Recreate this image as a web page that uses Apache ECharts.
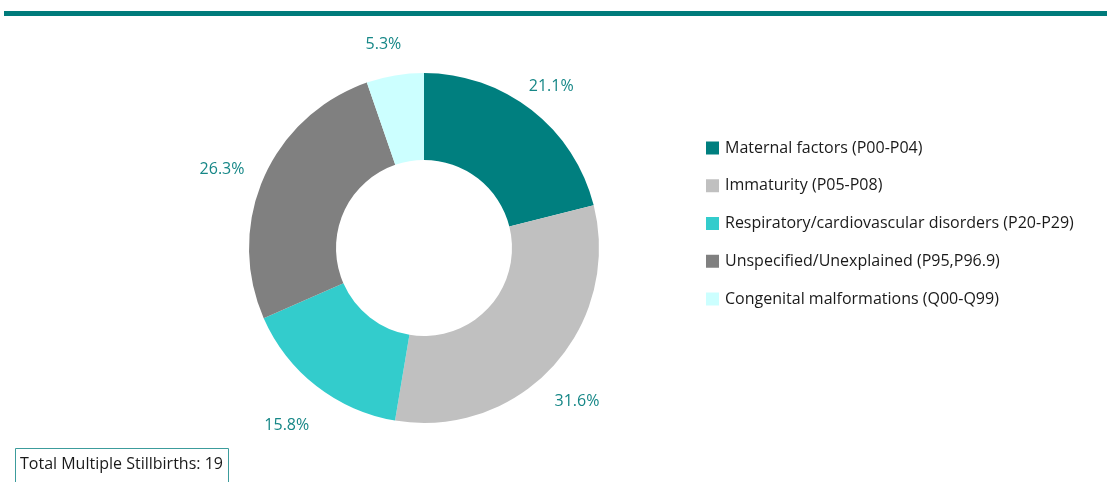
<!DOCTYPE html>
<html>
<head>
<meta charset="utf-8">
<script src="https://cdn.jsdelivr.net/npm/echarts@6/dist/echarts.min.js"></script>
<style>
  html, body { margin: 0; padding: 0; background: #ffffff; }
  #chart { width: 1107px; height: 482px; }
</style>
</head>
<body>
<div id="chart"></div>
<script>
// Causes of multiple stillbirths, share of total (%)
const categories = [
  'Maternal factors (P00-P04)',
  'Immaturity (P05-P08)',
  'Respiratory/cardiovascular disorders (P20-P29)',
  'Unspecified/Unexplained (P95,P96.9)',
  'Congenital malformations (Q00-Q99)'
];
const shares = [21.1, 31.6, 15.8, 26.3, 5.3];
const colors = ['#007f7f', '#c0c0c0', '#33cccc', '#808080', '#ccffff'];
const totalStillbirths = 19;

const FONT = '"Open Sans", Lato, sans-serif';
const LABEL_COLOR = '#168787';

const sliceData = categories.map((name, i) => ({
  name: name,
  value: shares[i],
  itemStyle: { color: colors[i] }
}));

const chart = echarts.init(document.getElementById('chart'), null, { renderer: 'canvas' });

chart.setOption({
  animation: false,
  backgroundColor: '#ffffff',
  legend: {
    data: categories,
    orient: 'vertical',
    left: 701,
    top: 135,
    icon: 'rect',
    itemWidth: 13,
    itemHeight: 13,
    itemGap: 21.75,
    textStyle: {
      fontFamily: FONT,
      fontSize: 16,
      color: '#1a1a1a',
      lineHeight: 13,
      padding: [0, 0, 0, 1]
    },
    selectedMode: false
  },
  series: [
    {
      name: 'Causes',
      type: 'pie',
      center: [424, 248],
      radius: [88, 175],
      startAngle: 90,
      clockwise: true,
      silent: true,
      label: { show: false },
      labelLine: { show: false },
      data: sliceData
    },
    {
      // transparent ring carrying the percentage labels just outside the donut
      name: 'Labels',
      type: 'pie',
      center: [419, 256],
      radius: [175, 249],
      startAngle: 90,
      clockwise: true,
      silent: true,
      itemStyle: { color: 'rgba(0,0,0,0)' },
      label: {
        show: true,
        position: 'inside',
        formatter: p => p.value.toFixed(1) + '%',
        fontFamily: FONT,
        fontSize: 16,
        color: LABEL_COLOR
      },
      labelLine: { show: false },
      data: categories.map((name, i) => ({ name: name, value: shares[i] }))
    }
  ],
  graphic: [
    {
      type: 'rect',
      shape: { x: 4, y: 11, width: 1103, height: 5 },
      style: { fill: '#007b7b' },
      silent: true
    },
    {
      type: 'rect',
      shape: { x: 15.5, y: 448.5, width: 213, height: 40 },
      style: { fill: '#ffffff', stroke: '#3c9c9c', lineWidth: 1 },
      silent: true
    },
    {
      type: 'text',
      left: 20,
      top: 456,
      style: {
        text: 'Total Multiple Stillbirths: ' + totalStillbirths,
        fontFamily: FONT,
        fontSize: 16,
        fill: '#1a1a1a'
      },
      silent: true
    }
  ]
});
</script>
</body>
</html>
